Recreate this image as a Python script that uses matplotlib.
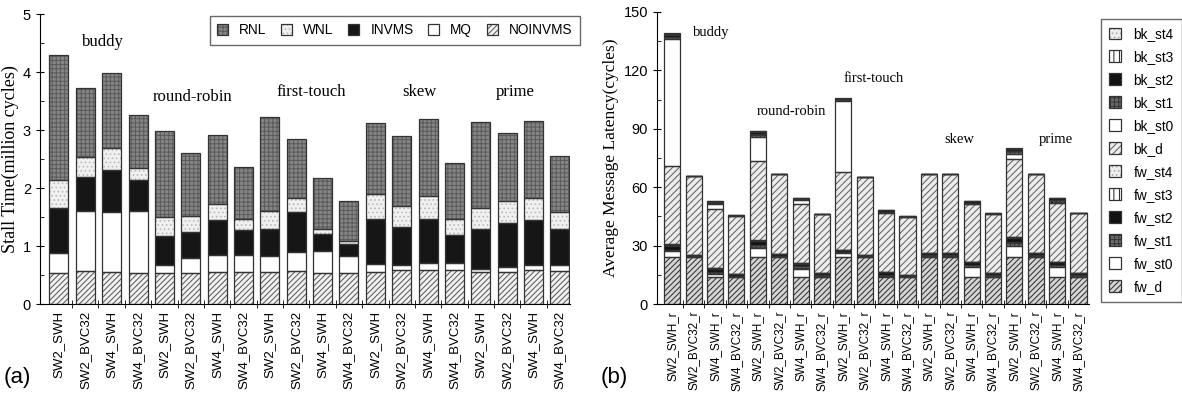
import numpy as np
import matplotlib
matplotlib.use("Agg")
import matplotlib.pyplot as plt
from matplotlib.patches import Patch
from matplotlib.ticker import MultipleLocator

# ---------------- data ----------------
configs = ["SW2_SWH", "SW2_BVC32", "SW4_SWH", "SW4_BVC32"]
policies = ["buddy", "round-robin", "first-touch", "skew", "prime"]
labels_a = configs * 5
labels_b = [c + "_r" for c in configs] * 5

# (a) stall time, million cycles
noinvms = [0.54, 0.57, 0.55, 0.54, 0.53, 0.54, 0.55, 0.55, 0.56, 0.57,
           0.53, 0.53, 0.56, 0.59, 0.59, 0.59, 0.55, 0.55, 0.58, 0.57]
mq      = [0.335, 1.04, 1.03, 1.06, 0.14, 0.26, 0.30, 0.30, 0.26, 0.33,
           0.39, 0.30, 0.13, 0.08, 0.12, 0.11, 0.06, 0.09, 0.09, 0.10]
invms   = [0.785, 0.58, 0.73, 0.53, 0.51, 0.45, 0.60, 0.42, 0.47, 0.69,
           0.28, 0.21, 0.78, 0.65, 0.76, 0.49, 0.68, 0.76, 0.77, 0.63]
wnl     = [0.48, 0.34, 0.38, 0.21, 0.32, 0.26, 0.28, 0.20, 0.31, 0.23,
           0.09, 0.04, 0.42, 0.37, 0.40, 0.28, 0.37, 0.37, 0.39, 0.28]
rnl     = [2.15, 1.19, 1.30, 0.92, 1.49, 1.10, 1.18, 0.89, 1.63, 1.03,
           0.89, 0.70, 1.23, 1.20, 1.32, 0.96, 1.48, 1.18, 1.32, 0.98]

# (b) average message latency, cycles
fw_d   = [24, 24, 14, 14, 24, 24, 14, 14, 24, 24, 14, 14, 24.3, 24.3, 14, 14, 24, 24.3, 14, 14]
fw_st0 = [3, 0, 1.4, 0, 4.6, 0, 3.8, 0, 2.0, 0, 0.3, 0, 0, 0, 5.0, 0, 6.0, 0, 5.0, 0]
fw_st1 = [1.0, 0.5, 1.2, 0.6, 1.8, 0.6, 1.5, 0.8, 0.7, 0.5, 0.8, 0.3, 0.8, 0.8, 1.2, 0.7, 2.0, 0.7, 1.2, 0.7]
fw_st2 = [1.8, 0.8, 1.5, 0.8, 2.0, 1.0, 1.5, 1.2, 0.9, 0.7, 1.2, 0.5, 1.2, 1.3, 1.5, 1.0, 2.0, 1.0, 1.3, 1.0]
fw_st3 = [0.3, 0, 0.2, 0, 0.2, 0, 0.1, 0, 0.1, 0, 0, 0, 0, 0, 0, 0, 0.2, 0, 0, 0]
fw_st4 = [0.5, 0, 0.3, 0, 0.3, 0, 0.2, 0, 0.1, 0, 0, 0, 0, 0, 0, 0, 0, 0, 0, 0]
bk_d   = [40.5, 40.3, 30, 30, 40.4, 41, 30.3, 30, 40.2, 40, 30.2, 30, 40.4, 40.3, 29.8, 30.6, 40.1, 40.7, 30.2, 30.8]
bk_st0 = [65, 0, 2.8, 0, 12.3, 0, 2.0, 0, 36.5, 0, 0.5, 0, 0, 0, 0, 0, 2.8, 0, 0, 0]
bk_st1 = [1.2, 0, 0.6, 0, 1.5, 0, 0.4, 0, 0.4, 0, 0.5, 0, 0, 0, 0.5, 0, 1.3, 0, 1.5, 0]
bk_st2 = [1.0, 0.3, 0.6, 0.3, 1.3, 0.4, 0.5, 0.3, 0.5, 0.2, 0.9, 0.3, 0.3, 0.3, 0.8, 0.3, 1.2, 0.3, 1.0, 0.4]
bk_st3 = [0.3, 0, 0.2, 0, 0.3, 0, 0.1, 0, 0.1, 0, 0, 0, 0, 0, 0, 0, 0.2, 0, 0, 0]
bk_st4 = [0.4, 0, 0.3, 0, 0.3, 0, 0.2, 0, 0.1, 0, 0, 0, 0, 0, 0, 0, 0.2, 0, 0.3, 0]

# ---------------- style ----------------
plt.rcParams['hatch.linewidth'] = 0.7
SANS = ['Liberation Sans', 'DejaVu Sans']
SERIF = ['Liberation Serif', 'DejaVu Serif']
EDGE = '#333333'

STY = {
    'RNL':     dict(face='#858585', hatch='++++', hc='#5a5a5a'),
    'WNL':     dict(face='#f0f0f0', hatch='....', hc='#bbbbbb'),
    'INVMS':   dict(face='#161616', hatch=None, hc=EDGE),
    'MQ':      dict(face='#ffffff', hatch=None, hc=EDGE),
    'NOINVMS': dict(face='#f0f0f0', hatch='//////', hc='#555555'),
    'fw_d':    dict(face='#d4d4d4', hatch='//////', hc='#2a2a2a'),
    'fw_st0':  dict(face='#ffffff', hatch=None, hc=EDGE),
    'fw_st1':  dict(face='#6a6a6a', hatch='++++', hc='#333333'),
    'fw_st2':  dict(face='#121212', hatch=None, hc=EDGE),
    'fw_st3':  dict(face='#ffffff', hatch='|||', hc='#222222'),
    'fw_st4':  dict(face='#eeeeee', hatch='....', hc='#aaaaaa'),
    'bk_d':    dict(face='#ececec', hatch='/////', hc='#5a5a5a'),
    'bk_st0':  dict(face='#ffffff', hatch=None, hc=EDGE),
    'bk_st1':  dict(face='#6a6a6a', hatch='++++', hc='#333333'),
    'bk_st2':  dict(face='#121212', hatch=None, hc=EDGE),
    'bk_st3':  dict(face='#ffffff', hatch='|||', hc='#222222'),
    'bk_st4':  dict(face='#eeeeee', hatch='....', hc='#aaaaaa'),
}


def stack(ax, x, series, names, width):
    bottom = np.zeros(len(x))
    for vals, name in zip(series, names):
        s = STY[name]
        v = np.asarray(vals, float)
        ax.bar(x, v, width, bottom=bottom, color=s['face'], hatch=s['hatch'],
               edgecolor=s['hc'], linewidth=0, zorder=2)
        ax.bar(x, v, width, bottom=bottom, fill=False, edgecolor=EDGE,
               linewidth=0.9, zorder=3)
        bottom += v


def handle(name):
    s = STY[name]
    return (Patch(facecolor=s['face'], hatch=s['hatch'], edgecolor=s['hc'], linewidth=0),
            Patch(fill=False, edgecolor=EDGE, linewidth=0.9))


def style_axes(ax, labels, fs):
    ax.spines['top'].set_visible(False)
    ax.spines['right'].set_visible(False)
    x = np.arange(len(labels))
    ax.set_xticks(x)
    ax.set_xticklabels(labels, rotation=90, family=SANS, fontsize=fs)
    ax.set_xticks(x[:-1] + 0.5, minor=True)
    ax.tick_params(axis='x', which='major', direction='in', length=3, pad=5)
    ax.tick_params(axis='x', which='minor', direction='inout', length=6)
    ax.tick_params(axis='y', which='major', direction='inout', length=6, labelsize=10.5)
    ax.tick_params(axis='y', which='minor', direction='in', length=3)
    for t in ax.get_yticklabels():
        t.set_family(SANS)


fig = plt.figure(figsize=(11.82, 3.96), dpi=100)

# ---------------- (a) ----------------
axa = fig.add_axes([0.0338, 0.2323, 0.4484, 0.7323])
x = np.arange(len(labels_a))
stack(axa, x, [noinvms, mq, invms, wnl, rnl],
      ['NOINVMS', 'MQ', 'INVMS', 'WNL', 'RNL'], 0.72)
axa.set_xlim(-0.72, 19.38)
axa.set_ylim(0, 5)
axa.yaxis.set_major_locator(MultipleLocator(1))
axa.yaxis.set_minor_locator(MultipleLocator(0.5))
style_axes(axa, labels_a, 9.5)
axa.set_ylabel('Stall Time(million cycles)', family=SERIF, fontsize=13, labelpad=3)

pos_a = [(1.67, 4.52), (5.08, 3.57), (9.56, 3.66), (13.67, 3.66), (17.3, 3.66)]
for name, (px, py) in zip(policies, pos_a):
    axa.text(px, py, name, family=SERIF, fontsize=12, ha='center', va='center')

leg_names_a = ['RNL', 'WNL', 'INVMS', 'MQ', 'NOINVMS']
la = fig.legend([handle(n) for n in leg_names_a], leg_names_a, ncol=5,
                loc='upper left', bbox_to_anchor=(0.1717, 0.977),
                prop={'family': SANS, 'size': 9.8}, frameon=True, fancybox=False,
                edgecolor='#444444', handlelength=0.8, handleheight=0.8,
                handletextpad=0.8, columnspacing=1.1, borderpad=0.55)
la.get_frame().set_linewidth(1.0)

# ---------------- (b) ----------------
axb = fig.add_axes([0.5558, 0.2323, 0.3655, 0.7374])
names_b = ['fw_d', 'fw_st0', 'fw_st1', 'fw_st2', 'fw_st3', 'fw_st4',
           'bk_d', 'bk_st0', 'bk_st1', 'bk_st2', 'bk_st3', 'bk_st4']
stack(axb, np.arange(len(labels_b)),
      [fw_d, fw_st0, fw_st1, fw_st2, fw_st3, fw_st4,
       bk_d, bk_st0, bk_st1, bk_st2, bk_st3, bk_st4], names_b, 0.75)
axb.set_xlim(-0.72, 19.49)
axb.set_ylim(0, 150)
axb.yaxis.set_major_locator(MultipleLocator(30))
axb.yaxis.set_minor_locator(MultipleLocator(15))
style_axes(axb, labels_b, 8.5)
axb.set_ylabel('Average Message Latency(cycles)', family=SERIF, fontsize=12.5, labelpad=3)

pos_b = [(1.83, 139.7), (5.55, 99.1), (9.41, 116.0), (13.45, 84.7), (17.95, 84.7)]
for name, (px, py) in zip(policies, pos_b):
    axb.text(px, py, name, family=SERIF, fontsize=10.5, ha='center', va='center')

leg_names_b = names_b[::-1]
lb = fig.legend([handle(n) for n in leg_names_b], leg_names_b, ncol=1,
                loc='upper left', bbox_to_anchor=(0.9255, 0.970),
                prop={'family': SANS, 'size': 9.8}, frameon=True, fancybox=False,
                edgecolor='#444444', handlelength=0.9, handleheight=0.9,
                handletextpad=0.9, labelspacing=0.66, borderpad=0.6)
lb.get_frame().set_linewidth(1.0)

fig.text(4 / 1182, 1 - 378 / 396, '(a)', family=SANS, fontsize=16, va='center', ha='left')
fig.text(601 / 1182, 1 - 378 / 396, '(b)', family=SANS, fontsize=16, va='center', ha='left')

fig.savefig('out.png', dpi=100)
